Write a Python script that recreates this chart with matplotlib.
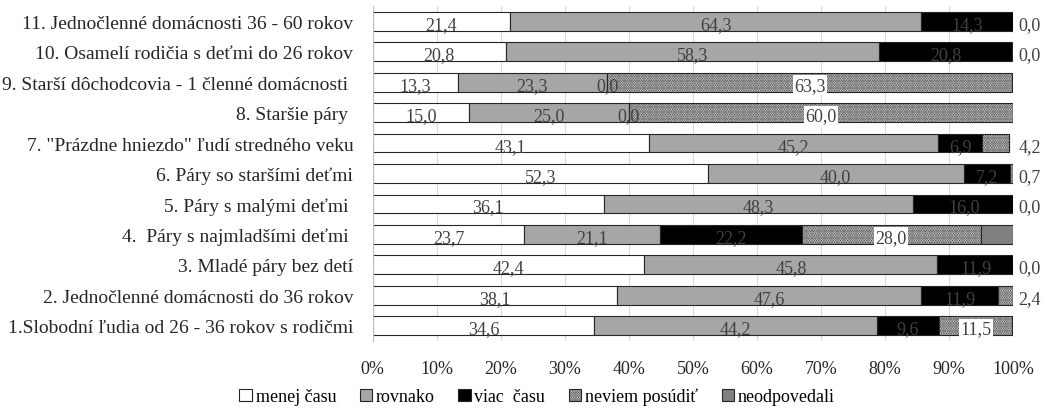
import numpy as np
import matplotlib.pyplot as plt

plt.rcParams['font.family'] = ['Liberation Serif', 'DejaVu Serif']
plt.rcParams['hatch.linewidth'] = 1.3

categories = [
    '1.Slobodní ľudia od 26 - 36 rokov s rodičmi',
    '2. Jednočlenné domácnosti do 36 rokov',
    '3. Mladé páry bez detí',
    '4.  Páry s najmladšími deťmi ',
    '5. Páry s malými deťmi ',
    '6. Páry so staršími deťmi',
    '7. "Prázdne hniezdo" ľudí stredného veku',
    '8. Staršie páry ',
    '9. Starší dôchodcovia - 1 členné domácnosti ',
    '10. Osamelí rodičia s deťmi do 26 rokov',
    '11. Jednočlenné domácnosti 36 - 60 rokov',
]
menej = [34.6, 38.1, 42.4, 23.7, 36.1, 52.3, 43.1, 15.0, 13.3, 20.8, 21.4]
rovnako = [44.2, 47.6, 45.8, 21.1, 48.3, 40.0, 45.2, 25.0, 23.3, 58.3, 64.3]
viac = [9.6, 11.9, 11.9, 22.2, 16.0, 7.2, 6.9, 0.0, 0.0, 20.8, 14.3]
neviem = [11.5, 2.4, 0.0, 28.0, 0.0, 0.7, 4.2, 60.0, 63.3, 0.0, 0.0]
neodp = [0.0, 0.0, 0.0, 5.0, 0.0, 0.0, 0.0, 0.0, 0.0, 0.0, 0.0]
series_names = ['menej času', 'rovnako', 'viac  času', 'neviem posúdiť', 'neodpovedali']
xticks = np.arange(0, 101, 10)


def fmt(v):
    return '{0:.1f}'.format(v).replace('.', ',')


fig = plt.figure(figsize=(10.53, 4.14), dpi=100)
ax = fig.add_axes([0.354, 0.174, 0.608, 0.809])

y = np.arange(len(categories))
h = 0.62
series = [menej, rovnako, viac, neviem, neodp]
colors = ['white', '#a6a6a6', 'black', 'white', '#808080']
hatches = [None, None, None, '.......', None]
fs = 13

left = np.zeros(len(categories))
for i, vals in enumerate(series):
    vals = np.array(vals)
    ax.barh(y, vals, left=left, height=h, color=colors[i], edgecolor='#262626',
            linewidth=0.8, hatch=hatches[i], label=series_names[i], zorder=2)
    for j, v in enumerate(vals):
        c = left[j] + v / 2
        if i == 4:
            continue
        if i == 3:
            if v < 5:
                ax.text(100 + 2.6, y[j] - 0.1, fmt(v), ha='center', va='center',
                        fontsize=fs, color='#404040', clip_on=False)
            else:
                ax.text(c, y[j] - 0.1, fmt(v), ha='center', va='center',
                        fontsize=fs, color='#404040', zorder=4,
                        bbox=dict(facecolor='white', edgecolor='none', pad=1))
        else:
            ax.text(c, y[j] - 0.1, fmt(v), ha='center', va='center',
                    fontsize=fs, color='#404040', zorder=4)
    left += vals

ax.set_xlim(0, 100)
ax.set_ylim(-0.5, len(categories) - 0.5)
ax.set_xticks(xticks)
ax.set_xticklabels([str(t) + '%' for t in xticks], fontsize=13, color='#262626')
ax.set_yticks(y)
ax.set_yticklabels(categories, fontsize=14, color='#262626')
ax.tick_params(axis='x', length=0, pad=14)
ax.tick_params(axis='y', length=0, pad=14)
ax.grid(axis='x', color='#d9d9d9', linewidth=0.8, zorder=0)
ax.set_axisbelow(True)
for s in ['top', 'right', 'bottom']:
    ax.spines[s].set_visible(False)
ax.spines['left'].set_color('#bfbfbf')

fig.legend(loc='center', bbox_to_anchor=(0.51, 0.04), ncol=5, frameon=False,
           fontsize=13, handlelength=0.7, handleheight=0.7, handletextpad=0.2,
           columnspacing=1.3)

fig.savefig('out.png', dpi=100)
